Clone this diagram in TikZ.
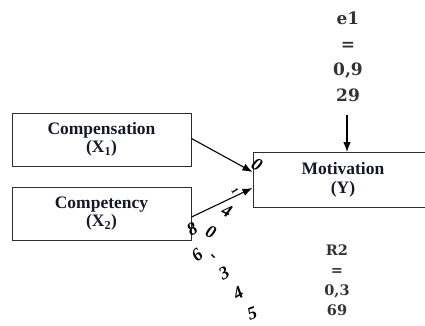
\documentclass[tikz,border=0pt]{standalone}
\usepackage{fontspec}
\setmainfont{Liberation Serif}
\newfontfamily\slabfont{DejaVu Serif}
\usetikzlibrary{arrows.meta}
\definecolor{ink}{RGB}{22,22,45}
\definecolor{edge}{RGB}{45,45,45}
\tikzset{
  varbox/.style={draw=edge, line width=1pt, align=center, text=ink,
    font=\fontsize{17.5}{18.5}\selectfont\bfseries, inner sep=0pt},
  pathline/.style={line width=1.1pt, -{Latex[length=10pt,width=7.5pt]}},
  stat/.style={align=center, text=black!80, inner sep=0pt},
  coef/.style={font=\fontsize{18}{18}\selectfont\bfseries\itshape, inner sep=0pt}
}
\begin{document}
\begin{tikzpicture}[x=1pt,y=-1pt]
\useasboundingbox (0,0) rectangle (425,325);

% exogenous and endogenous variables
\node[varbox, minimum width=179pt, minimum height=53pt] (comp) at (101.5,139.5)
  {Compensation\\(X\textsubscript{1})};
\node[varbox, minimum width=179pt, minimum height=53pt] (compt) at (101.5,213.5)
  {Competency\\(X\textsubscript{2})};
\node[varbox, minimum width=180pt, minimum height=55pt] (mot) at (343,180)
  {Motivation\\[1pt](Y)};

% error term and explained variance
\node[stat, font=\slabfont\fontsize{17}{25.5}\selectfont\bfseries] (e1) at (348,57)
  {e1\\=\\0,9\\29};
\node[stat, font=\slabfont\fontsize{14.5}{20}\selectfont\bfseries] (r2) at (337,280)
  {R2\\=\\0,3\\69};

% paths
\coordinate (e1tail) at (347,115);
\draw[pathline] ([yshift=1pt]comp.east) -- ([yshift=8pt]mot.west);
\draw[pathline] ([yshift=-3.5pt]compt.east) -- ([yshift=-8pt]mot.west);
\draw[pathline] (e1tail) -- (e1tail |- mot.north);

% path coefficients
\node[coef, rotate=-30] (c1) at (257,165) {0};
\node[coef, rotate=-60, font=\fontsize{10}{10}\selectfont\bfseries] (c2) at (235,191) {1};
\node[coef, rotate=-25] (c3) at (227,211) {4};
\node[coef, rotate=30] (c4) at (192,229) {8};
\node[coef, rotate=-25] (c5) at (211,232) {0};
\node[coef, rotate=40] (c6) at (197,255) {6};
\node[coef, rotate=-45] (c7) at (212,258) {-};
\node[coef, rotate=30] (c8) at (224,273) {3};
\node[coef, rotate=30] (c9) at (238,293) {4};
\node[coef, rotate=20] (c10) at (252,313) {5};
\end{tikzpicture}
\end{document}
